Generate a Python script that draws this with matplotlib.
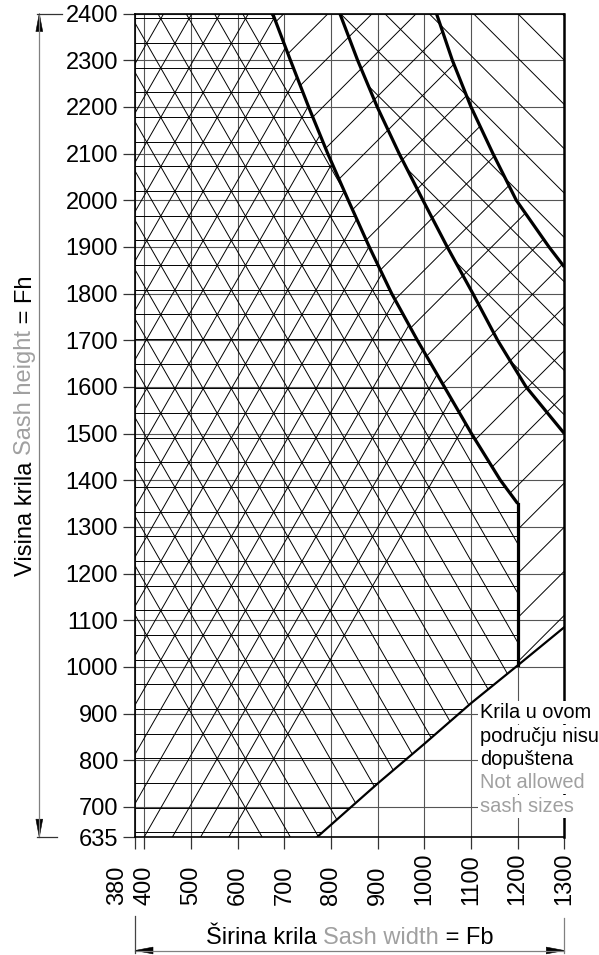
import numpy as np
import matplotlib
matplotlib.use("Agg")
import matplotlib.pyplot as plt
from matplotlib.collections import LineCollection
from matplotlib.patches import Polygon
from matplotlib.lines import Line2D
from matplotlib.transforms import IdentityTransform, offset_copy

plt.rcParams["font.family"] = ["Liberation Sans", "DejaVu Sans"]

# ---------------------------------------------------------------------------
# Data (Fb = sash width, Fh = sash height, mm)
# ---------------------------------------------------------------------------
x_ticks = [380, 400, 500, 600, 700, 800, 900, 1000, 1100, 1200, 1300]
y_ticks = [635, 700, 800, 900, 1000, 1100, 1200, 1300, 1400, 1500,
           1600, 1700, 1800, 1900, 2000, 2100, 2200, 2300, 2400]

# limit curve 1 (edge of the fully allowed zone)
c1_x = [675, 713, 752, 793, 837, 882, 930, 985, 1043, 1101, 1163, 1200]
c1_y = [2400, 2300, 2200, 2100, 2000, 1900, 1800, 1700, 1600, 1500, 1400, 1350]
# limit curve 2
c2_x = [819, 857, 899, 946, 997, 1049, 1104, 1157, 1218, 1300]
c2_y = [2400, 2300, 2200, 2100, 2000, 1900, 1800, 1700, 1600, 1500]
# limit curve 3
c3_x = [1026, 1060, 1100, 1147, 1197, 1267, 1300]
c3_y = [2400, 2300, 2200, 2100, 2000, 1900, 1857]
# lower limit (sizes below are not allowed)
low_x = [770, 900, 1000, 1100, 1200, 1300]
low_y = [635, 750, 835, 922, 1003, 1085]
max_fb = 1200

note_black = ["Krila u ovom", "području nisu", "dopuštena"]
note_grey = ["Not allowed", "sash sizes"]

GREY = "#a0a0a0"
FS = 17

# ---------------------------------------------------------------------------
# Figure / axes
# ---------------------------------------------------------------------------
fig = plt.figure(figsize=(5.99, 9.55), dpi=100)
ax = fig.add_axes([0.22538, 0.12335, 0.71669, 0.86251])
xmin, xmax = x_ticks[0], x_ticks[-1]
ymin, ymax = y_ticks[0], y_ticks[-1]
ax.set_xlim(xmin, xmax)
ax.set_ylim(ymin, ymax)

ax.set_xticks(x_ticks)
ax.set_xticklabels([])
ax.set_yticks(y_ticks)
ax.set_yticklabels([str(v) for v in y_ticks])
ax.tick_params(axis="both", direction="out", length=8.6, width=0.9,
               color="#333333", labelsize=FS)
ax.tick_params(axis="y", pad=3.6)
ax.grid(True, color="#555555", lw=0.8, zorder=1)
ax.set_axisbelow(True)
for side in ["left", "bottom", "top"]:
    ax.spines[side].set_linewidth(1.2)
ax.spines["right"].set_linewidth(1.8)

# x tick labels, rotated, aligned at their start
for v in x_ticks:
    dx = -17.5 if v == xmin else 0
    tr = offset_copy(ax.transData, fig=fig, x=dx, y=-68, units="dots")
    ax.text(v, ymin, str(v), transform=tr, rotation=90,
            rotation_mode="anchor", ha="left", va="center",
            fontsize=FS, clip_on=False)


# ---------------------------------------------------------------------------
# Zones and hatching
# ---------------------------------------------------------------------------
def hatch(segs, poly, lw=0.7):
    patch = Polygon(poly, closed=True, fc="none", ec="none")
    ax.add_patch(patch)
    lc = LineCollection(segs, colors="black", linewidths=lw, zorder=2)
    ax.add_collection(lc)
    lc.set_clip_path(patch)


c1 = list(zip(c1_x, c1_y))
c2 = list(zip(c2_x, c2_y))
c3 = list(zip(c3_x, c3_y))
low = list(zip(low_x, low_y))
low_in = [p for p in low if p[0] <= max_fb]
low_out = [p for p in low if p[0] >= max_fb]

zone_a = [(xmin, ymin), (xmin, ymax)] + c1 + low_in[::-1]
zone_bc = c1 + low_out + [(xmax, c3_y[-1])] + c3[::-1]
zone_cd = c2 + [(xmax, ymax)]

# triangular pattern in the fully allowed zone
side, rise = 60.5, 52.85
slope = rise / (side / 2)
segs = [[(xmin, y), (xmax, y)] for y in np.arange(2389.7, ymin, -rise)]
for m in range(-12, 20):
    x0 = 405 + side * m
    segs.append([(x0 + (ymin - 2336) / slope, ymin),
                 (x0 + (ymax - 2336) / slope, ymax)])
    segs.append([(x0 - (ymin - 2336) / slope, ymin),
                 (x0 - (ymax - 2336) / slope, ymax)])
hatch(segs, zone_a)

# "/" lines
segs = [[(xmin, xmin + c), (xmax, xmax + c)]
        for c in 1606 + 94.5 * np.arange(-25, 6)]
hatch(segs, zone_bc)

# "\" lines
segs = [[(xmin, c - xmin), (xmax, c - xmax)]
        for c in 3600 + 95 * np.arange(-25, 3)]
hatch(segs, zone_cd)

# boundaries
for cx, cy in [(c1_x, c1_y), (c2_x, c2_y), (c3_x, c3_y)]:
    ax.plot(cx, cy, color="black", lw=2.3, zorder=4,
            solid_capstyle="butt", solid_joinstyle="round")
ax.plot([max_fb, max_fb], [c1_y[-1], low_out[0][1]], color="black",
        lw=2.3, zorder=4)
ax.plot(low_x, low_y, color="black", lw=1.6, zorder=4)

# note in the not-allowed zone
for i, s in enumerate(note_black + note_grey):
    ax.text(1119, 890 - 50 * i, s, fontsize=14.4, ha="left", va="baseline",
            color="black" if i < len(note_black) else GREY, zorder=6,
            clip_on=False,
            bbox=dict(facecolor="white", edgecolor="none", pad=1.5))

# ---------------------------------------------------------------------------
# Dimension arrows and axis titles (display pixels)
# ---------------------------------------------------------------------------
renderer = fig.canvas.get_renderer()
px = IdentityTransform()


def adv(s):
    t = fig.text(0, 0, s + "|", fontsize=FS)
    w = t.get_window_extent(renderer).width
    t.set_text("|")
    w -= t.get_window_extent(renderer).width
    t.remove()
    return w


def multicolor(parts, centre, base, vertical=False):
    full = "".join(p for p, _ in parts)
    start = centre - adv(full) / 2
    prefix = ""
    for s, col in parts:
        off = start + adv(prefix) if prefix else start
        if vertical:
            fig.text(base, off, s, color=col, fontsize=FS, rotation=90,
                     rotation_mode="anchor", ha="left", va="baseline",
                     transform=px)
        else:
            fig.text(off, base, s, color=col, fontsize=FS, ha="left",
                     va="baseline", transform=px)
        prefix += s


def head(tip, d, L=18, W=3.4):
    tx, ty = tip
    dx, dy = d
    nx_, ny_ = -dy, dx
    pts = [(tx, ty), (tx - L * dx + W * nx_, ty - L * dy + W * ny_),
           (tx - L * dx - W * nx_, ty - L * dy - W * ny_)]
    fig.add_artist(Polygon(pts, closed=True, transform=px, fc="black",
                           ec="black", lw=0.4))


def seg(x, y, color="#808080", lw=0.9):
    fig.add_artist(Line2D(x, y, transform=px, color=color, lw=lw))


(xl, yb), (xr, yt) = ax.transData.transform([(xmin, ymin), (xmax, ymax)])

# vertical dimension (Fh)
ax_x = 39.3
seg([ax_x, ax_x], [yb, yt])
seg([37, 62], [yt, yt], color="#333333")
seg([37, 57], [yb, yb], color="#333333")
head((ax_x, yt), (0, 1))
head((ax_x, yb), (0, -1))

# horizontal dimension (Fb)
ay = 4.5
seg([xl, xr], [ay, ay])
seg([xl, xl], [2, 39], color="#444444")
seg([xr, xr], [2, 37], color="#808080")
head((xl, ay), (-1, 0))
head((xr, ay), (1, 0))

multicolor([("Širina krila ", "black"), ("Sash width", GREY),
            (" = Fb", "black")], (xl + xr) / 2, 11)
multicolor([("Visina krila ", "black"), ("Sash height", GREY),
            (" = Fh", "black")], (yb + yt) / 2, 31.5, vertical=True)

fig.savefig("out.png", dpi=100)
